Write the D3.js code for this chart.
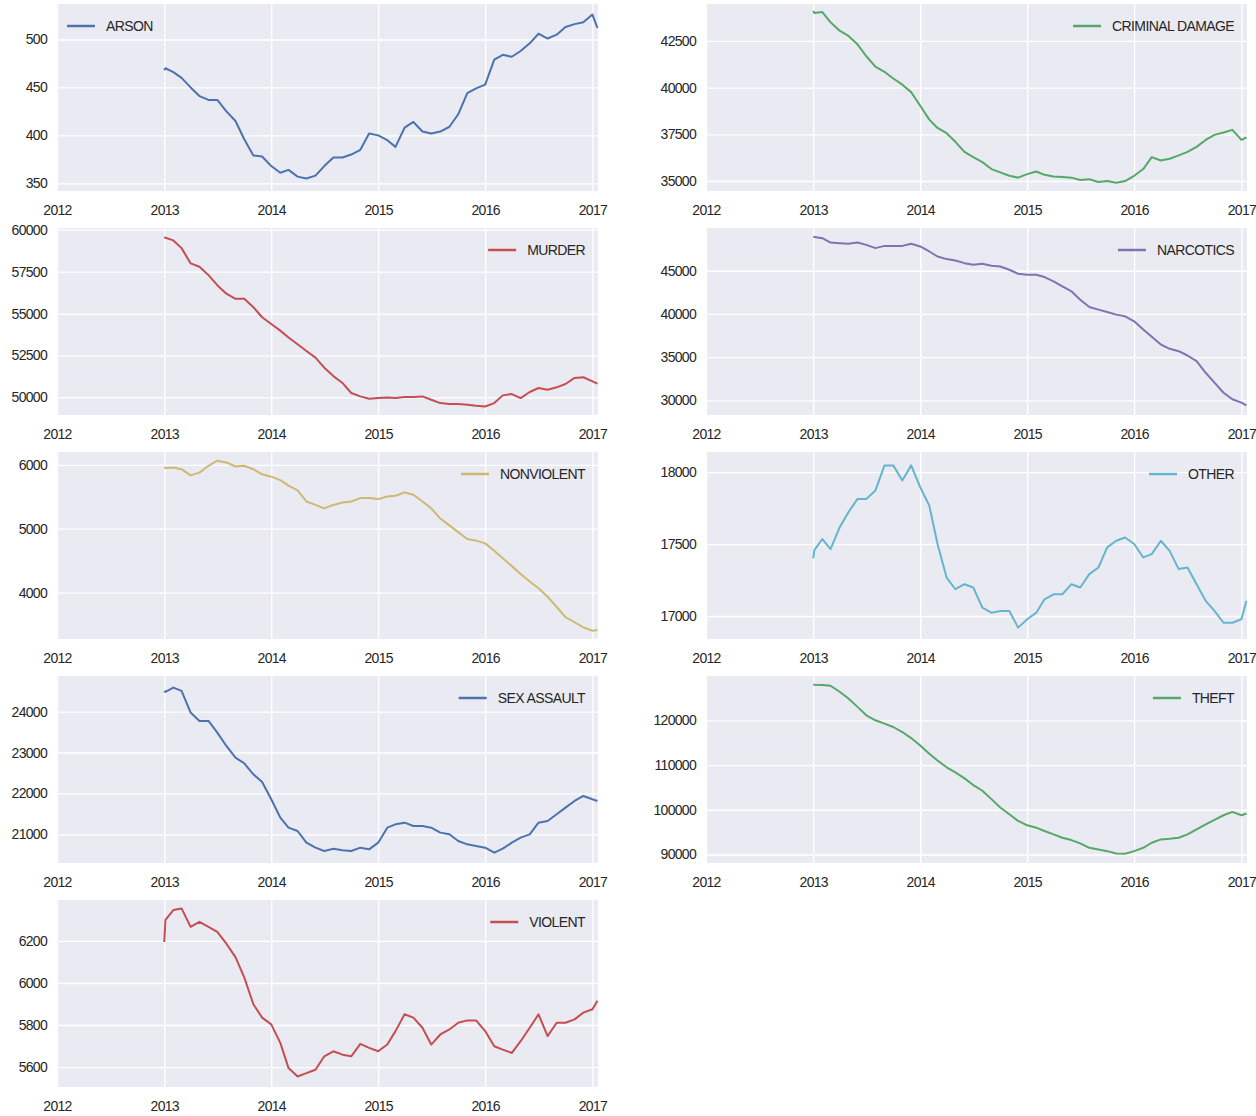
<!DOCTYPE html>
<html>
<head>
<meta charset="utf-8">
<script src="https://cdn.jsdelivr.net/npm/d3@7"></script>
<style>
body { margin: 0; background: #fff; }
text { font-family: "Liberation Sans", Arial, sans-serif; }
</style>
</head>
<body>
<div id="chart"></div>
<script>
var w = 1256
var h = 1116

// rolling yearly totals, read roughly monthly off the picture
var dates = ["2013-01-01","2013-01-05","2013-02-01","2013-03-01","2013-04-01","2013-05-01","2013-06-01",
  "2013-07-01","2013-08-01","2013-09-01","2013-10-01","2013-11-01","2013-12-01",
  "2014-01-01","2014-02-01","2014-03-01","2014-04-01","2014-05-01","2014-06-01",
  "2014-07-01","2014-08-01","2014-09-01","2014-10-01","2014-11-01","2014-12-01",
  "2015-01-01","2015-02-01","2015-03-01","2015-04-01","2015-05-01","2015-06-01",
  "2015-07-01","2015-08-01","2015-09-01","2015-10-01","2015-11-01","2015-12-01",
  "2016-01-01","2016-02-01","2016-03-01","2016-04-01","2016-05-01","2016-06-01",
  "2016-07-01","2016-08-01","2016-09-01","2016-10-01","2016-11-01","2016-12-01",
  "2017-01-01","2017-01-18"];

var categories = ["ARSON", "CRIMINAL DAMAGE", "MURDER", "NARCOTICS", "NONVIOLENT",
                  "OTHER", "SEX ASSAULT", "THEFT", "VIOLENT"];

var arson = [468,470,466,460,450,441,437,437,425,415,396,379,378, 368,361,364,357,355,358,368,377,377,380,385,402,
  400,395,388,408,414,404,402,404,409,422,444,449, 453,479,484,482,488,496,506,501,505,513,516,518, 526,512];

var criminalDamage = [44110,44000,44050,43500,43050,42770,42320,41680,41130,40850,40490,40160,39760,
  39030,38290,37840,37560,37100,36560,36280,36010,35640,35460,35280,35180,
  35370,35510,35330,35240,35220,35180,35050,35090,34950,35000,34910,35000,
  35280,35640,36280,36100,36190,36370,36560,36830,37200,37470,37600,37740, 37200,37340];

var murder = [59560,59520,59360,58900,57990,57790,57290,56690,56180,55880,55880,55380,54780,
  54380,53980,53570,53170,52770,52370,51770,51270,50860,50260,50060,49920,
  49960,50000,49960,50020,50020,50060,49860,49660,49600,49600,49560,49500,
  49460,49660,50120,50200,49960,50320,50560,50460,50600,50800,51160,51200, 50960,50820];

var narcotics = [48960,48900,48770,48270,48190,48120,48270,48000,47620,47880,47880,47880,48120,
  47810,47230,46650,46350,46190,45880,45690,45810,45580,45500,45120,44650,
  44540,44540,44270,43770,43190,42620,41650,40810,40500,40230,39920,39730,
  39150,38190,37350,36460,35960,35690,35190,34540,33190,32040,30880,30120, 29730,29420];

var nonviolent = [5957,5950,5957,5931,5835,5878,5984,6064,6037,5973,5984,5931,5851,
  5814,5760,5675,5601,5426,5372,5319,5372,5409,5426,5479,5479,
  5463,5505,5516,5569,5532,5426,5319,5159,5053,4947,4840,4814,
  4771,4654,4537,4415,4292,4175,4069,3936,3776,3617,3537,3457, 3404,3414];

var other = [17400,17460,17535,17465,17616,17721,17814,17814,17872,18047,18047,17942,18047,
  17895,17767,17500,17267,17186,17221,17198,17058,17023,17035,17035,16919,
  16977,17023,17116,17151,17151,17221,17198,17291,17337,17477,17523,17546,
  17500,17407,17430,17523,17453,17326,17337,17221,17105,17035,16953,16953, 16977,17105];

var sexAssault = [24505,24480,24587,24505,23976,23772,23772,23487,23160,22875,22737,22468,22280,
  21857,21408,21164,21082,20797,20675,20593,20650,20610,20593,20675,20634,
  20797,21164,21245,21286,21204,21204,21164,21042,21001,20838,20756,20716,
  20675,20552,20650,20797,20919,21001,21286,21327,21490,21653,21816,21938, 21857,21816];

var theft = [128025,127950,127875,127725,126375,124875,123000,121125,120000,119250,118500,117375,116025,
  114375,112500,111000,109500,108375,107025,105525,104250,102375,100500,99000,97500,
  96525,96000,95250,94500,93750,93225,92475,91500,91125,90750,90225,90150,
  90750,91500,92625,93375,93525,93750,94500,95625,96750,97725,98775,99525, 98775,99150];

var violent = [6195,6300,6347,6355,6267,6291,6267,6243,6187,6123,6027,5899,5835,
  5803,5715,5595,5555,5571,5587,5651,5675,5659,5651,5710,5691,
  5675,5707,5771,5851,5835,5787,5707,5755,5779,5811,5822,5822,
  5771,5699,5683,5667,5723,5787,5851,5747,5811,5811,5827,5859, 5875,5915];

var series = [arson, criminalDamage, murder, narcotics, nonviolent, other, sexAssault, theft, violent];

// y-axis tick labels and axis limits
var yTicks = [[350,400,450,500], [35000,37500,40000,42500], [50000,52500,55000,57500,60000],
  [30000,35000,40000,45000], [4000,5000,6000], [17000,17500,18000],
  [21000,22000,23000,24000], [90000,100000,110000,120000], [5600,5800,6000,6200]];
var yLimits = [[342,537], [34465,44480], [48950,60100], [28300,49950], [3275,6200],
  [16840,18140], [20300,24870], [88100,129900], [5505,6395]];

var xLimits = ["2012-01-01", "2017-01-20"];

//              blue       green      red        purple     yellow     cyan
var colors = ["#4C72B0", "#55A868", "#C44E52", "#8172B2", "#CCB974", "#64B5CD"];

var parse = d3.timeParse("%Y-%m-%d");
var pw = 541, ph = 187;   // plot size
var colX = [57, 706];
var rowStep = 224, top0 = 4;

var svg = d3.select("#chart").append("svg")
    .attr("width", w)
    .attr("height", h);

var x = d3.scaleTime()
    .domain(xLimits.map(parse))
    .range([0, pw]);

series.forEach(function(vals, i) {
  var col = i % 2, row = Math.floor(i / 2);
  var g = svg.append("g")
      .attr("transform", "translate(" + colX[col] + "," + (top0 + row*rowStep) + ")");

  var y = d3.scaleLinear().domain(yLimits[i]).range([ph, 0]);

  g.append("rect")
      .attr("width", pw)
      .attr("height", ph)
      .attr("fill", "#EAEAF2");

  var xa = g.append("g")
      .attr("transform", "translate(0," + ph + ")")
      .call(d3.axisBottom(x)
        .ticks(d3.timeYear.every(1))
        .tickFormat(d3.timeFormat("%Y"))
        .tickSize(-ph)
        .tickPadding(14));

  var ya = g.append("g")
      .call(d3.axisLeft(y)
        .tickValues(yTicks[i])
        .tickFormat(d3.format("d"))
        .tickSize(-pw)
        .tickPadding(10));

  [xa, ya].forEach(function(a) {
    a.select(".domain").remove();
    a.selectAll(".tick line").attr("stroke", "#fff").attr("stroke-width", 1.3);
    a.selectAll(".tick text")
        .attr("fill", "#262626")
        .style("font-size", "14px")
        .style("letter-spacing", "-0.7px");
  });

  var color = colors[i % colors.length];
  var line = d3.line()
      .x(function(d, j) { return x(parse(dates[j])); })
      .y(function(d) { return y(d); });

  g.append("path")
      .datum(vals)
      .attr("fill", "none")
      .attr("stroke", color)
      .attr("stroke-width", 2)
      .attr("stroke-linejoin", "round")
      .attr("d", line);

  // legend: first panel upper left, the rest upper right
  var lg = g.append("g");
  var lt = lg.append("text")
      .attr("y", 27)
      .attr("fill", "#262626")
      .style("font-size", "14px")
      .style("letter-spacing", "-0.6px")
      .text(categories[i]);
  var tx = (i == 0) ? 49 : pw - 13 - lt.node().getComputedTextLength();
  lt.attr("x", tx);
  lg.append("line")
      .attr("x1", tx - 39).attr("x2", tx - 11)
      .attr("y1", 22).attr("y2", 22)
      .attr("stroke", color)
      .attr("stroke-width", 2.5);
});
</script>
</body>
</html>
